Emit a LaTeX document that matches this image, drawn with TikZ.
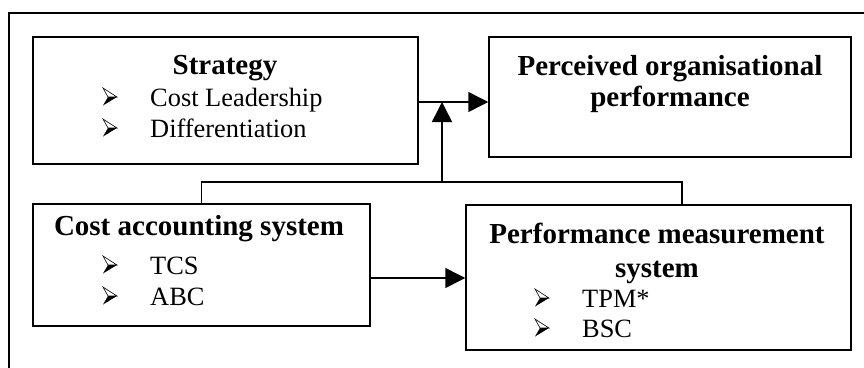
\documentclass[tikz,border=0pt]{standalone}
\usepackage{fontspec}
\setmainfont{Liberation Serif}
\usetikzlibrary{arrows.meta}
\tikzset{
  box/.style={draw, line width=1.5pt, inner sep=0pt, minimum width=#1},
  lbl/.style={inner sep=0pt, anchor=base},
  itm/.style={inner sep=0pt, anchor=base west, font=\fontsize{26.4}{26.4}\selectfont},
  hd/.style={lbl, font=\bfseries\fontsize{29}{29}\selectfont},
  conn/.style={line width=1.5pt},
  arr/.style={conn, -{Triangle[length=20pt,width=20pt]}},
  bullet/.pic={
    \draw[line width=0.6pt, line join=miter] (0,-18) -- (14,-9) -- (5,-9) -- cycle;
    \fill (5,-9) -- (14,-9) -- (0,-0.5) -- cycle;
  }
}
\begin{document}
\begin{tikzpicture}[x=1pt,y=-1pt]
\useasboundingbox (0,0) rectangle (864,367);
\begin{scope}
\clip (0,0) rectangle (864,367);
\draw[line width=2pt] (880,13) -- (9,13) -- (9,380);
\end{scope}
% boxes
\node[box=385pt, minimum height=127pt] (strat) at (225.5,100.5) {};
\node[box=362pt, minimum height=120pt] (perc) at (670,97) {};
\node[box=337pt, minimum height=122pt] (cost) at (201.5,265) {};
\node[box=385pt, minimum height=145pt] (perf) at (658.5,277.5) {};
% texts
\node[hd] (t1) at (225,74) {Strategy};
\pic at (103,106) {bullet};
\node[itm] (i1) at (150,106) {Cost Leadership};
\pic at (103,137) {bullet};
\node[itm] (i2) at (150,137) {Differentiation};
\node[hd] (t2) at (670,75) {Perceived organisational};
\node[hd] (t3) at (670,106) {performance};
\node[hd] (t4) at (199,235) {Cost accounting system};
\pic at (103,274) {bullet};
\node[itm] (i3) at (150,274) {TCS};
\pic at (103,305) {bullet};
\node[itm] (i4) at (150,305) {ABC};
\node[hd] (t5) at (657,243) {Performance measurement};
\node[hd] (t6) at (657,277) {system};
\pic at (535,307) {bullet};
\node[itm] (i5) at (582,307) {TPM*};
\pic at (535,337) {bullet};
\node[itm] (i6) at (582,337) {BSC};
% connectors
\coordinate (j) at (442,102);
\coordinate (b) at (442,182);
\coordinate (pj) at (682,182);
\coordinate (m) at (420,278);
\draw[conn] (cost.north) |- (pj) -- (perf.north -| pj);
\draw[arr] (b) -- (j);
\draw[arr] (strat.east |- j) -- (perc.west |- j);
\draw[arr] (cost.east |- m) -- (perf.west |- m);
\end{tikzpicture}
\end{document}
